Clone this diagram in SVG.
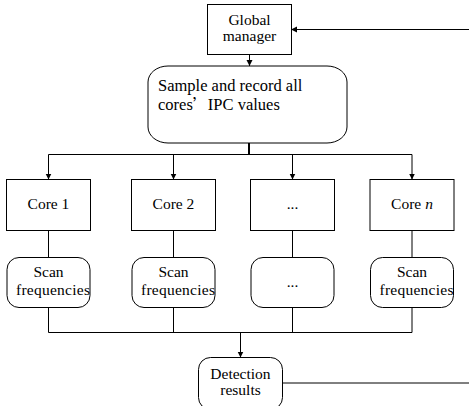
<svg xmlns="http://www.w3.org/2000/svg" width="469" height="406" viewBox="0 0 469 406">
<defs>
<marker id="arr" markerUnits="userSpaceOnUse" markerWidth="8" markerHeight="8" refX="6" refY="3" orient="auto">
<path d="M0,0 L6,3 L0,6 Z" fill="#000"/>
</marker>
<style>
.box{fill:#fff;stroke:#000;stroke-width:1}
.t{font-family:"Liberation Serif","Times New Roman",serif;font-size:15.5px;fill:#000;text-anchor:middle}
.ts{font-family:"Liberation Serif","Times New Roman",serif;font-size:16.5px;fill:#000}
.c{fill:none;stroke:#000;stroke-width:1}
</style>
</defs>
<rect width="469" height="406" fill="#fff"/>
<g id="connectors">
<line class="c" x1="469" y1="29.5" x2="291" y2="29.5" marker-end="url(#arr)"/>
<line class="c" x1="249.5" y1="54" x2="249.5" y2="66" marker-end="url(#arr)"/>
<line class="c" x1="249" y1="143" x2="249" y2="154" style="stroke-width:2"/>
<line class="c" x1="48.5" y1="154.5" x2="412" y2="154.5"/>
<line class="c" x1="48.5" y1="154.5" x2="48.5" y2="179.5" marker-end="url(#arr)"/>
<line class="c" x1="173.5" y1="154.5" x2="173.5" y2="179.5" marker-end="url(#arr)"/>
<line class="c" x1="292.5" y1="154.5" x2="292.5" y2="179.5" marker-end="url(#arr)"/>
<line class="c" x1="412" y1="154.5" x2="412" y2="179.5" marker-end="url(#arr)"/>
<line class="c" x1="48.5" y1="230" x2="48.5" y2="257"/>
<line class="c" x1="173.5" y1="230" x2="173.5" y2="257"/>
<line class="c" x1="292.5" y1="230" x2="292.5" y2="257"/>
<line class="c" x1="412" y1="230" x2="412" y2="257"/>
<polyline class="c" points="48.5,307 48.5,332.5 412,332.5 412,307"/>
<line class="c" x1="173.5" y1="307" x2="173.5" y2="332.5"/>
<line class="c" x1="292.5" y1="307" x2="292.5" y2="332.5"/>
<line class="c" x1="240.5" y1="332.5" x2="240.5" y2="357.5" marker-end="url(#arr)"/>
<line class="c" x1="282.5" y1="383" x2="469" y2="383"/>
</g>
<g id="global-manager">
<rect class="box" x="207.5" y="4.5" width="84" height="50"/>
<text class="t" x="249.5" y="25">Global</text>
<text class="t" x="249.5" y="41">manager</text>
</g>
<g id="sample">
<rect class="box" x="148" y="66" width="199" height="77" rx="20" ry="16"/>
<text class="ts" x="158" y="91">Sample and record all</text>
<text class="ts" x="158" y="110">cores<tspan style="font-family:'Noto Sans CJK SC',serif;font-size:15px">’</tspan>IPC values</text>
</g>
<g id="core1">
<rect class="box" x="6.5" y="179.5" width="84" height="51"/>
<text class="t" x="48.5" y="209">Core 1</text>
</g>
<g id="core2">
<rect class="box" x="131.5" y="179.5" width="84" height="51"/>
<text class="t" x="173.5" y="209">Core 2</text>
</g>
<g id="core-dots">
<rect class="box" x="250.5" y="179.5" width="84" height="51"/>
<text class="t" x="292.5" y="209">...</text>
</g>
<g id="coren">
<rect class="box" x="370" y="179.5" width="84" height="51"/>
<text class="t" x="412" y="209">Core <tspan font-style="italic">n</tspan></text>
</g>
<g id="scan1">
<rect class="box" x="7" y="257.5" width="83" height="50" rx="12"/>
<text class="t" x="48.5" y="277">Scan</text>
<text class="t" x="53" y="295" textLength="74">frequencies</text>
</g>
<g id="scan2">
<rect class="box" x="132" y="257.5" width="83" height="50" rx="12"/>
<text class="t" x="173.5" y="277">Scan</text>
<text class="t" x="178" y="295" textLength="74">frequencies</text>
</g>
<g id="scan-dots">
<rect class="box" x="251" y="257.5" width="83" height="50" rx="12"/>
<text class="t" x="292.5" y="287">...</text>
</g>
<g id="scann">
<rect class="box" x="370.5" y="257.5" width="83" height="50" rx="12"/>
<text class="t" x="412" y="277">Scan</text>
<text class="t" x="416.5" y="295" textLength="74">frequencies</text>
</g>
<g id="detection">
<rect class="box" x="198.5" y="357.5" width="84" height="52" rx="12"/>
<text class="t" x="240.5" y="379">Detection</text>
<text class="t" x="240.5" y="395">results</text>
</g>
</svg>
